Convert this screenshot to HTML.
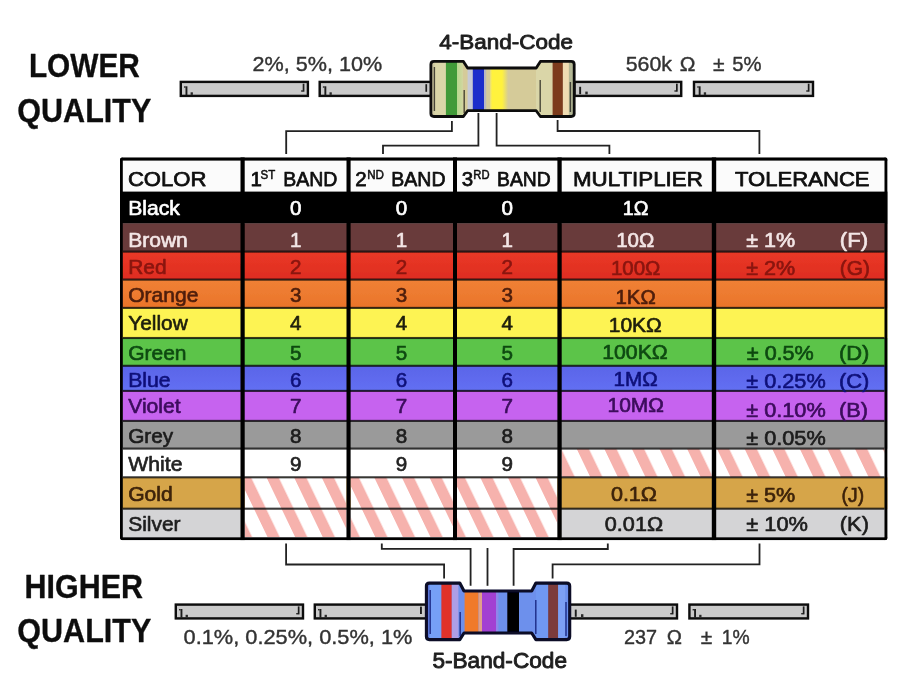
<!DOCTYPE html>
<html><head><meta charset="utf-8"><title>Resistor colour code</title>
<style>html,body{margin:0;padding:0;background:#fff;}body{width:917px;height:680px;overflow:hidden;}svg{display:block;font-family:"Liberation Sans",sans-serif;}</style></head><body>
<svg width="917" height="680" viewBox="0 0 917 680">
<defs>
<pattern id="h1" width="27.60" height="40" patternUnits="userSpaceOnUse" patternTransform="translate(9.73,0) skewX(25.641)"><rect x="0" y="0" width="12.20" height="40" fill="#f6b2ad"/></pattern>
<pattern id="h2" width="27.60" height="40" patternUnits="userSpaceOnUse" patternTransform="translate(7.07,0) skewX(25.641)"><rect x="0" y="0" width="12.20" height="40" fill="#f6b2ad"/></pattern>
<pattern id="h3" width="27.60" height="40" patternUnits="userSpaceOnUse" patternTransform="translate(2.67,0) skewX(25.641)"><rect x="0" y="0" width="12.20" height="40" fill="#f6b2ad"/></pattern>
<pattern id="h4" width="27.60" height="40" patternUnits="userSpaceOnUse" patternTransform="translate(2.46,0) skewX(25.641)"><rect x="0" y="0" width="12.20" height="40" fill="#f6b2ad"/></pattern>
<pattern id="h5" width="27.60" height="40" patternUnits="userSpaceOnUse" patternTransform="translate(4.76,0) skewX(25.641)"><rect x="0" y="0" width="12.20" height="40" fill="#f6b2ad"/></pattern>
<linearGradient id="gred" x1="0" y1="0" x2="0" y2="1"><stop offset="0" stop-color="#ea3927"/><stop offset="1" stop-color="#de2c20"/></linearGradient>
<linearGradient id="gor" x1="0" y1="0" x2="0" y2="1"><stop offset="0" stop-color="#f08135"/><stop offset="1" stop-color="#ea742a"/></linearGradient>
<linearGradient id="gbl" x1="0" y1="0" x2="0" y2="1"><stop offset="0" stop-color="#5a64e8"/><stop offset="1" stop-color="#6370f3"/></linearGradient>
<filter id="soft" x="-2%" y="-2%" width="104%" height="104%"><feGaussianBlur stdDeviation="0.55"/></filter>
</defs>
<rect width="917" height="680" fill="#ffffff"/>
<g filter="url(#soft)">
<clipPath id="tc"><rect x="120.0" y="157.3" width="767.6" height="383.0" rx="3.2" ry="3.2"/></clipPath>
<g id="table" clip-path="url(#tc)">
<rect x="120.0" y="157.3" width="767.6" height="383.0" fill="#fbfbfb"/>
<rect x="120.0" y="191.6" width="767.6" height="32.10" fill="#000000"/>
<rect x="120.0" y="223.4" width="767.6" height="28.50" fill="#693a3a"/>
<rect x="120.0" y="251.6" width="767.6" height="28.30" fill="url(#gred)"/>
<rect x="120.0" y="279.6" width="767.6" height="28.60" fill="url(#gor)"/>
<rect x="120.0" y="307.9" width="767.6" height="30.40" fill="#fdf352"/>
<rect x="120.0" y="338.0" width="767.6" height="28.10" fill="#5bc44a"/>
<rect x="120.0" y="365.8" width="767.6" height="25.40" fill="url(#gbl)"/>
<rect x="120.0" y="390.9" width="767.6" height="30.30" fill="#c663ef"/>
<rect x="120.0" y="420.9" width="767.6" height="28.00" fill="#9a9a9a"/>
<rect x="120.0" y="448.6" width="767.6" height="29.00" fill="#ffffff"/>
<rect x="120.0" y="477.3" width="767.6" height="31.70" fill="#d6a548"/>
<rect x="120.0" y="508.7" width="767.6" height="28.60" fill="#d4d4d6"/>
<rect x="244.7" y="477.3" width="101.8" height="59.7" fill="#fff"/>
<rect x="244.7" y="477.3" width="101.8" height="59.7" fill="url(#h1)"/>
<rect x="350.6" y="477.3" width="102.4" height="59.7" fill="#fff"/>
<rect x="350.6" y="477.3" width="102.4" height="59.7" fill="url(#h2)"/>
<rect x="457.0" y="477.3" width="100.4" height="59.7" fill="#fff"/>
<rect x="457.0" y="477.3" width="100.4" height="59.7" fill="url(#h3)"/>
<rect x="561.7" y="448.6" width="150.1" height="28.7" fill="#fff"/>
<rect x="561.7" y="448.6" width="150.1" height="28.7" fill="url(#h4)"/>
<rect x="716.2" y="448.6" width="168.3" height="28.7" fill="#fff"/>
<rect x="716.2" y="448.6" width="168.3" height="28.7" fill="url(#h5)"/>
<rect x="122.8" y="250.55" width="761.7" height="2.1" fill="#0a0a0a" fill-opacity="0.8"/>
<rect x="122.8" y="278.55" width="761.7" height="2.1" fill="#0a0a0a" fill-opacity="0.8"/>
<rect x="122.8" y="306.85" width="761.7" height="2.1" fill="#0a0a0a" fill-opacity="0.8"/>
<rect x="122.8" y="336.95" width="761.7" height="2.1" fill="#0a0a0a" fill-opacity="0.8"/>
<rect x="122.8" y="364.75" width="761.7" height="2.1" fill="#0a0a0a" fill-opacity="0.8"/>
<rect x="122.8" y="389.85" width="761.7" height="2.1" fill="#0a0a0a" fill-opacity="0.8"/>
<rect x="122.8" y="419.85" width="761.7" height="2.1" fill="#0a0a0a" fill-opacity="0.8"/>
<rect x="122.8" y="447.55" width="761.7" height="2.1" fill="#0a0a0a" fill-opacity="0.8"/>
<rect x="122.8" y="476.25" width="761.7" height="2.1" fill="#0a0a0a" fill-opacity="0.8"/>
<rect x="122.8" y="507.65" width="761.7" height="2.1" fill="#0a0a0a" fill-opacity="0.8"/>
<rect x="120.0" y="157.3" width="767.6" height="3.3" fill="#000"/>
<rect x="120.0" y="537.3" width="767.6" height="3.0" fill="#000"/>
<rect x="120.0" y="157.3" width="2.8" height="383.0" fill="#000"/>
<rect x="884.5" y="157.3" width="3.1" height="383.0" fill="#000"/>
<rect x="240.5" y="157.3" width="4.2" height="383.0" fill="#000"/>
<rect x="346.5" y="157.3" width="4.1" height="383.0" fill="#000"/>
<rect x="453.0" y="157.3" width="4.0" height="383.0" fill="#000"/>
<rect x="557.4" y="157.3" width="4.3" height="383.0" fill="#000"/>
<rect x="711.8" y="157.3" width="4.4" height="383.0" fill="#000"/>
<text x="127.9" y="186.0" font-size="20.50" fill="#111" stroke="#111" stroke-width="0.75" stroke-linejoin="round" textLength="78.6" lengthAdjust="spacingAndGlyphs" xml:space="preserve">COLOR</text>
<text x="250.6" y="186.0" font-size="20.50" fill="#111" stroke="#111" stroke-width="0.75" stroke-linejoin="round" xml:space="preserve">1</text>
<text x="260.6" y="178.6" font-size="12.80" fill="#111" stroke="#111" stroke-width="0.55" stroke-linejoin="round" textLength="14.7" lengthAdjust="spacingAndGlyphs" xml:space="preserve">ST</text>
<text x="283.2" y="186.0" font-size="20.50" fill="#111" stroke="#111" stroke-width="0.75" stroke-linejoin="round" textLength="54.2" lengthAdjust="spacingAndGlyphs" xml:space="preserve">BAND</text>
<text x="355.2" y="186.0" font-size="20.50" fill="#111" stroke="#111" stroke-width="0.75" stroke-linejoin="round" xml:space="preserve">2</text>
<text x="367.2" y="178.6" font-size="12.80" fill="#111" stroke="#111" stroke-width="0.55" stroke-linejoin="round" textLength="16.8" lengthAdjust="spacingAndGlyphs" xml:space="preserve">ND</text>
<text x="391.3" y="186.0" font-size="20.50" fill="#111" stroke="#111" stroke-width="0.75" stroke-linejoin="round" textLength="54.2" lengthAdjust="spacingAndGlyphs" xml:space="preserve">BAND</text>
<text x="461.8" y="186.0" font-size="20.50" fill="#111" stroke="#111" stroke-width="0.75" stroke-linejoin="round" xml:space="preserve">3</text>
<text x="473.3" y="178.6" font-size="12.80" fill="#111" stroke="#111" stroke-width="0.55" stroke-linejoin="round" textLength="16.2" lengthAdjust="spacingAndGlyphs" xml:space="preserve">RD</text>
<text x="497.1" y="186.0" font-size="20.50" fill="#111" stroke="#111" stroke-width="0.75" stroke-linejoin="round" textLength="53.7" lengthAdjust="spacingAndGlyphs" xml:space="preserve">BAND</text>
<text x="573.0" y="186.0" font-size="20.50" fill="#111" stroke="#111" stroke-width="0.75" stroke-linejoin="round" textLength="129.8" lengthAdjust="spacingAndGlyphs" xml:space="preserve">MULTIPLIER</text>
<text x="735.0" y="186.0" font-size="20.50" fill="#111" stroke="#111" stroke-width="0.75" stroke-linejoin="round" textLength="134.6" lengthAdjust="spacingAndGlyphs" xml:space="preserve">TOLERANCE</text>
<text x="128.2" y="215.2" font-size="20.60" fill="#ffffff" stroke="#ffffff" stroke-width="0.65" stroke-linejoin="round" textLength="51.7" lengthAdjust="spacingAndGlyphs" xml:space="preserve">Black</text>
<text x="295.7" y="215.2" font-size="20.60" fill="#ffffff" stroke="#ffffff" stroke-width="0.65" stroke-linejoin="round" text-anchor="middle" xml:space="preserve">0</text>
<text x="401.5" y="215.2" font-size="20.60" fill="#ffffff" stroke="#ffffff" stroke-width="0.65" stroke-linejoin="round" text-anchor="middle" xml:space="preserve">0</text>
<text x="507.3" y="215.2" font-size="20.60" fill="#ffffff" stroke="#ffffff" stroke-width="0.65" stroke-linejoin="round" text-anchor="middle" xml:space="preserve">0</text>
<text x="622.8" y="215.3" font-size="20.60" fill="#ffffff" stroke="#ffffff" stroke-width="0.65" stroke-linejoin="round" textLength="25.7" lengthAdjust="spacingAndGlyphs" xml:space="preserve">1Ω</text>
<text x="128.2" y="246.5" font-size="20.60" fill="#f3e6e6" stroke="#f3e6e6" stroke-width="0.65" stroke-linejoin="round" textLength="59.6" lengthAdjust="spacingAndGlyphs" xml:space="preserve">Brown</text>
<text x="295.7" y="246.5" font-size="20.60" fill="#f3e6e6" stroke="#f3e6e6" stroke-width="0.65" stroke-linejoin="round" text-anchor="middle" xml:space="preserve">1</text>
<text x="401.5" y="246.5" font-size="20.60" fill="#f3e6e6" stroke="#f3e6e6" stroke-width="0.65" stroke-linejoin="round" text-anchor="middle" xml:space="preserve">1</text>
<text x="507.3" y="246.5" font-size="20.60" fill="#f3e6e6" stroke="#f3e6e6" stroke-width="0.65" stroke-linejoin="round" text-anchor="middle" xml:space="preserve">1</text>
<text x="616.2" y="246.5" font-size="20.60" fill="#f3e6e6" stroke="#f3e6e6" stroke-width="0.65" stroke-linejoin="round" textLength="38.1" lengthAdjust="spacingAndGlyphs" xml:space="preserve">10Ω</text>
<text x="746.3" y="247.2" font-size="20.60" fill="#f3e6e6" stroke="#f3e6e6" stroke-width="0.65" stroke-linejoin="round" textLength="49.0" lengthAdjust="spacingAndGlyphs" xml:space="preserve">± 1%</text>
<text x="839.8" y="247.2" font-size="20.60" fill="#f3e6e6" stroke="#f3e6e6" stroke-width="0.65" stroke-linejoin="round" textLength="28.3" lengthAdjust="spacingAndGlyphs" xml:space="preserve">(F)</text>
<text x="128.2" y="273.8" font-size="20.60" fill="#8a1510" stroke="#8a1510" stroke-width="0.65" stroke-linejoin="round" textLength="38.4" lengthAdjust="spacingAndGlyphs" xml:space="preserve">Red</text>
<text x="295.7" y="273.8" font-size="20.60" fill="#8a1510" stroke="#8a1510" stroke-width="0.65" stroke-linejoin="round" text-anchor="middle" xml:space="preserve">2</text>
<text x="401.5" y="273.8" font-size="20.60" fill="#8a1510" stroke="#8a1510" stroke-width="0.65" stroke-linejoin="round" text-anchor="middle" xml:space="preserve">2</text>
<text x="507.3" y="273.8" font-size="20.60" fill="#8a1510" stroke="#8a1510" stroke-width="0.65" stroke-linejoin="round" text-anchor="middle" xml:space="preserve">2</text>
<text x="610.9" y="274.5" font-size="20.60" fill="#8a1510" stroke="#8a1510" stroke-width="0.65" stroke-linejoin="round" textLength="49.5" lengthAdjust="spacingAndGlyphs" xml:space="preserve">100Ω</text>
<text x="746.3" y="274.6" font-size="20.60" fill="#8a1510" stroke="#8a1510" stroke-width="0.65" stroke-linejoin="round" textLength="49.0" lengthAdjust="spacingAndGlyphs" xml:space="preserve">± 2%</text>
<text x="839.8" y="274.6" font-size="20.60" fill="#8a1510" stroke="#8a1510" stroke-width="0.65" stroke-linejoin="round" textLength="30.2" lengthAdjust="spacingAndGlyphs" xml:space="preserve">(G)</text>
<text x="128.2" y="302.1" font-size="20.60" fill="#4f1f0a" stroke="#4f1f0a" stroke-width="0.65" stroke-linejoin="round" textLength="70.2" lengthAdjust="spacingAndGlyphs" xml:space="preserve">Orange</text>
<text x="295.7" y="302.1" font-size="20.60" fill="#4f1f0a" stroke="#4f1f0a" stroke-width="0.65" stroke-linejoin="round" text-anchor="middle" xml:space="preserve">3</text>
<text x="401.5" y="302.1" font-size="20.60" fill="#4f1f0a" stroke="#4f1f0a" stroke-width="0.65" stroke-linejoin="round" text-anchor="middle" xml:space="preserve">3</text>
<text x="507.3" y="302.1" font-size="20.60" fill="#4f1f0a" stroke="#4f1f0a" stroke-width="0.65" stroke-linejoin="round" text-anchor="middle" xml:space="preserve">3</text>
<text x="615.4" y="303.8" font-size="20.60" fill="#4f1f0a" stroke="#4f1f0a" stroke-width="0.65" stroke-linejoin="round" textLength="40.3" lengthAdjust="spacingAndGlyphs" xml:space="preserve">1KΩ</text>
<text x="128.2" y="329.9" font-size="20.60" fill="#1f1f0c" stroke="#1f1f0c" stroke-width="0.65" stroke-linejoin="round" textLength="59.6" lengthAdjust="spacingAndGlyphs" xml:space="preserve">Yellow</text>
<text x="295.7" y="329.9" font-size="20.60" fill="#1f1f0c" stroke="#1f1f0c" stroke-width="0.65" stroke-linejoin="round" text-anchor="middle" xml:space="preserve">4</text>
<text x="401.5" y="329.9" font-size="20.60" fill="#1f1f0c" stroke="#1f1f0c" stroke-width="0.65" stroke-linejoin="round" text-anchor="middle" xml:space="preserve">4</text>
<text x="507.3" y="329.9" font-size="20.60" fill="#1f1f0c" stroke="#1f1f0c" stroke-width="0.65" stroke-linejoin="round" text-anchor="middle" xml:space="preserve">4</text>
<text x="608.8" y="332.0" font-size="20.60" fill="#1f1f0c" stroke="#1f1f0c" stroke-width="0.65" stroke-linejoin="round" textLength="53.0" lengthAdjust="spacingAndGlyphs" xml:space="preserve">10KΩ</text>
<text x="128.2" y="359.8" font-size="20.60" fill="#0f4a12" stroke="#0f4a12" stroke-width="0.65" stroke-linejoin="round" textLength="58.3" lengthAdjust="spacingAndGlyphs" xml:space="preserve">Green</text>
<text x="295.7" y="359.8" font-size="20.60" fill="#0f4a12" stroke="#0f4a12" stroke-width="0.65" stroke-linejoin="round" text-anchor="middle" xml:space="preserve">5</text>
<text x="401.5" y="359.8" font-size="20.60" fill="#0f4a12" stroke="#0f4a12" stroke-width="0.65" stroke-linejoin="round" text-anchor="middle" xml:space="preserve">5</text>
<text x="507.3" y="359.8" font-size="20.60" fill="#0f4a12" stroke="#0f4a12" stroke-width="0.65" stroke-linejoin="round" text-anchor="middle" xml:space="preserve">5</text>
<text x="602.2" y="359.3" font-size="20.60" fill="#0f4a12" stroke="#0f4a12" stroke-width="0.65" stroke-linejoin="round" textLength="65.6" lengthAdjust="spacingAndGlyphs" xml:space="preserve">100KΩ</text>
<text x="746.8" y="360.4" font-size="20.60" fill="#0f4a12" stroke="#0f4a12" stroke-width="0.65" stroke-linejoin="round" textLength="67.0" lengthAdjust="spacingAndGlyphs" xml:space="preserve">± 0.5%</text>
<text x="839.0" y="360.4" font-size="20.60" fill="#0f4a12" stroke="#0f4a12" stroke-width="0.65" stroke-linejoin="round" textLength="30.4" lengthAdjust="spacingAndGlyphs" xml:space="preserve">(D)</text>
<text x="128.2" y="386.9" font-size="20.60" fill="#10127a" stroke="#10127a" stroke-width="0.65" stroke-linejoin="round" textLength="42.4" lengthAdjust="spacingAndGlyphs" xml:space="preserve">Blue</text>
<text x="295.7" y="386.9" font-size="20.60" fill="#10127a" stroke="#10127a" stroke-width="0.65" stroke-linejoin="round" text-anchor="middle" xml:space="preserve">6</text>
<text x="401.5" y="386.9" font-size="20.60" fill="#10127a" stroke="#10127a" stroke-width="0.65" stroke-linejoin="round" text-anchor="middle" xml:space="preserve">6</text>
<text x="507.3" y="386.9" font-size="20.60" fill="#10127a" stroke="#10127a" stroke-width="0.65" stroke-linejoin="round" text-anchor="middle" xml:space="preserve">6</text>
<text x="613.6" y="386.0" font-size="20.60" fill="#10127a" stroke="#10127a" stroke-width="0.65" stroke-linejoin="round" textLength="44.2" lengthAdjust="spacingAndGlyphs" xml:space="preserve">1MΩ</text>
<text x="746.3" y="388.4" font-size="20.60" fill="#10127a" stroke="#10127a" stroke-width="0.65" stroke-linejoin="round" textLength="79.4" lengthAdjust="spacingAndGlyphs" xml:space="preserve">± 0.25%</text>
<text x="839.0" y="388.4" font-size="20.60" fill="#10127a" stroke="#10127a" stroke-width="0.65" stroke-linejoin="round" textLength="30.4" lengthAdjust="spacingAndGlyphs" xml:space="preserve">(C)</text>
<text x="128.2" y="413.4" font-size="20.60" fill="#3c0c5c" stroke="#3c0c5c" stroke-width="0.65" stroke-linejoin="round" textLength="52.4" lengthAdjust="spacingAndGlyphs" xml:space="preserve">Violet</text>
<text x="295.7" y="413.4" font-size="20.60" fill="#3c0c5c" stroke="#3c0c5c" stroke-width="0.65" stroke-linejoin="round" text-anchor="middle" xml:space="preserve">7</text>
<text x="401.5" y="413.4" font-size="20.60" fill="#3c0c5c" stroke="#3c0c5c" stroke-width="0.65" stroke-linejoin="round" text-anchor="middle" xml:space="preserve">7</text>
<text x="507.3" y="413.4" font-size="20.60" fill="#3c0c5c" stroke="#3c0c5c" stroke-width="0.65" stroke-linejoin="round" text-anchor="middle" xml:space="preserve">7</text>
<text x="607.5" y="412.2" font-size="20.60" fill="#3c0c5c" stroke="#3c0c5c" stroke-width="0.65" stroke-linejoin="round" textLength="56.4" lengthAdjust="spacingAndGlyphs" xml:space="preserve">10MΩ</text>
<text x="746.3" y="416.5" font-size="20.60" fill="#3c0c5c" stroke="#3c0c5c" stroke-width="0.65" stroke-linejoin="round" textLength="79.4" lengthAdjust="spacingAndGlyphs" xml:space="preserve">± 0.10%</text>
<text x="839.0" y="416.5" font-size="20.60" fill="#3c0c5c" stroke="#3c0c5c" stroke-width="0.65" stroke-linejoin="round" textLength="29.0" lengthAdjust="spacingAndGlyphs" xml:space="preserve">(B)</text>
<text x="128.2" y="442.5" font-size="20.60" fill="#1c1c1c" stroke="#1c1c1c" stroke-width="0.65" stroke-linejoin="round" textLength="45.0" lengthAdjust="spacingAndGlyphs" xml:space="preserve">Grey</text>
<text x="295.7" y="442.5" font-size="20.60" fill="#1c1c1c" stroke="#1c1c1c" stroke-width="0.65" stroke-linejoin="round" text-anchor="middle" xml:space="preserve">8</text>
<text x="401.5" y="442.5" font-size="20.60" fill="#1c1c1c" stroke="#1c1c1c" stroke-width="0.65" stroke-linejoin="round" text-anchor="middle" xml:space="preserve">8</text>
<text x="507.3" y="442.5" font-size="20.60" fill="#1c1c1c" stroke="#1c1c1c" stroke-width="0.65" stroke-linejoin="round" text-anchor="middle" xml:space="preserve">8</text>
<text x="746.3" y="444.9" font-size="20.60" fill="#1c1c1c" stroke="#1c1c1c" stroke-width="0.65" stroke-linejoin="round" textLength="79.4" lengthAdjust="spacingAndGlyphs" xml:space="preserve">± 0.05%</text>
<text x="128.2" y="470.7" font-size="20.60" fill="#222222" stroke="#222222" stroke-width="0.65" stroke-linejoin="round" textLength="54.3" lengthAdjust="spacingAndGlyphs" xml:space="preserve">White</text>
<text x="295.7" y="470.7" font-size="20.60" fill="#222222" stroke="#222222" stroke-width="0.65" stroke-linejoin="round" text-anchor="middle" xml:space="preserve">9</text>
<text x="401.5" y="470.7" font-size="20.60" fill="#222222" stroke="#222222" stroke-width="0.65" stroke-linejoin="round" text-anchor="middle" xml:space="preserve">9</text>
<text x="507.3" y="470.7" font-size="20.60" fill="#222222" stroke="#222222" stroke-width="0.65" stroke-linejoin="round" text-anchor="middle" xml:space="preserve">9</text>
<text x="128.2" y="501.0" font-size="20.60" fill="#3c2208" stroke="#3c2208" stroke-width="0.65" stroke-linejoin="round" textLength="44.5" lengthAdjust="spacingAndGlyphs" xml:space="preserve">Gold</text>
<text x="610.9" y="501.4" font-size="20.60" fill="#3c2208" stroke="#3c2208" stroke-width="0.65" stroke-linejoin="round" textLength="46.1" lengthAdjust="spacingAndGlyphs" xml:space="preserve">0.1Ω</text>
<text x="746.3" y="501.8" font-size="20.60" fill="#3c2208" stroke="#3c2208" stroke-width="0.65" stroke-linejoin="round" textLength="49.0" lengthAdjust="spacingAndGlyphs" xml:space="preserve">± 5%</text>
<text x="841.6" y="501.8" font-size="20.60" fill="#3c2208" stroke="#3c2208" stroke-width="0.65" stroke-linejoin="round" textLength="22.5" lengthAdjust="spacingAndGlyphs" xml:space="preserve">(J)</text>
<text x="128.2" y="530.6" font-size="20.60" fill="#1e1e1e" stroke="#1e1e1e" stroke-width="0.65" stroke-linejoin="round" textLength="52.4" lengthAdjust="spacingAndGlyphs" xml:space="preserve">Silver</text>
<text x="604.8" y="530.7" font-size="20.60" fill="#1e1e1e" stroke="#1e1e1e" stroke-width="0.65" stroke-linejoin="round" textLength="58.3" lengthAdjust="spacingAndGlyphs" xml:space="preserve">0.01Ω</text>
<text x="746.3" y="530.8" font-size="20.60" fill="#1e1e1e" stroke="#1e1e1e" stroke-width="0.65" stroke-linejoin="round" textLength="61.7" lengthAdjust="spacingAndGlyphs" xml:space="preserve">± 10%</text>
<text x="839.8" y="530.8" font-size="20.60" fill="#1e1e1e" stroke="#1e1e1e" stroke-width="0.65" stroke-linejoin="round" textLength="29.1" lengthAdjust="spacingAndGlyphs" xml:space="preserve">(K)</text>
</g>
<polyline points="451.9,121.0 451.9,131.1 286.2,131.1 286.2,154.0" fill="none" stroke="#202020" stroke-width="1.8"/>
<polyline points="478.4,113.0 478.4,145.7 383.0,145.7 383.0,154.0" fill="none" stroke="#202020" stroke-width="1.8"/>
<polyline points="496.6,113.0 496.6,145.6 609.4,145.6 609.4,154.0" fill="none" stroke="#202020" stroke-width="1.8"/>
<polyline points="557.6,120.0 557.6,131.0 759.4,131.0 759.4,154.0" fill="none" stroke="#202020" stroke-width="1.8"/>
<polyline points="286.1,543.5 286.1,564.5 444.1,564.5 444.1,578.5" fill="none" stroke="#202020" stroke-width="1.8"/>
<polyline points="381.8,543.5 381.8,548.9 470.6,548.9 470.6,585.8" fill="none" stroke="#202020" stroke-width="1.8"/>
<polyline points="487.5,548.0 487.5,585.8" fill="none" stroke="#202020" stroke-width="1.8"/>
<polyline points="513.6,585.8 513.6,549.0 607.8,549.0 607.8,543.5" fill="none" stroke="#202020" stroke-width="1.8"/>
<polyline points="552.6,578.5 552.6,564.4 759.5,564.4 759.5,543.5" fill="none" stroke="#202020" stroke-width="1.8"/>
<rect x="180.8" y="81.9" width="127.1" height="14.0" fill="#cacaca" stroke="#0a0a0a" stroke-width="2.4"/>
<rect x="185.5" y="86.3" width="1.9" height="8.8" fill="#1c1c1c"/>
<rect x="190.6" y="92.3" width="2.3" height="2.6" fill="#2a2a2a"/>
<rect x="184.0" y="86.3" width="1.6" height="1.4" fill="#2a2a2a"/>
<rect x="302.7" y="83.7" width="1.7" height="8.0" fill="#1c1c1c"/>
<rect x="301.1" y="90.3" width="2.0" height="1.4" fill="#2a2a2a"/>
<rect x="319.7" y="81.9" width="112.1" height="14.0" fill="#cacaca" stroke="#0a0a0a" stroke-width="2.4"/>
<rect x="324.4" y="86.3" width="1.9" height="8.8" fill="#1c1c1c"/>
<rect x="329.5" y="92.3" width="2.3" height="2.6" fill="#2a2a2a"/>
<rect x="322.9" y="86.3" width="1.6" height="1.4" fill="#2a2a2a"/>
<rect x="425.4" y="84.2" width="1.7" height="7.6" fill="#1c1c1c"/>
<rect x="574.4" y="81.9" width="106.8" height="14.0" fill="#cacaca" stroke="#0a0a0a" stroke-width="2.4"/>
<rect x="676.0" y="83.7" width="1.7" height="8.0" fill="#1c1c1c"/>
<rect x="674.4" y="90.3" width="2.0" height="1.4" fill="#2a2a2a"/>
<rect x="579.2" y="86.8" width="1.9" height="7.4" fill="#1c1c1c"/><rect x="585.3" y="91.6" width="2.4" height="2.8" fill="#2a2a2a"/>
<rect x="694.0" y="81.9" width="119.0" height="14.0" fill="#cacaca" stroke="#0a0a0a" stroke-width="2.4"/>
<rect x="698.7" y="86.3" width="1.9" height="8.8" fill="#1c1c1c"/>
<rect x="703.8" y="92.3" width="2.3" height="2.6" fill="#2a2a2a"/>
<rect x="697.2" y="86.3" width="1.6" height="1.4" fill="#2a2a2a"/>
<rect x="807.8" y="83.7" width="1.7" height="8.0" fill="#1c1c1c"/>
<rect x="806.2" y="90.3" width="2.0" height="1.4" fill="#2a2a2a"/>
<rect x="175.8" y="604.6" width="127.2" height="13.8" fill="#cacaca" stroke="#0a0a0a" stroke-width="2.4"/>
<rect x="180.5" y="609.0" width="1.9" height="8.6" fill="#1c1c1c"/>
<rect x="185.6" y="614.8" width="2.3" height="2.6" fill="#2a2a2a"/>
<rect x="179.0" y="609.0" width="1.6" height="1.4" fill="#2a2a2a"/>
<rect x="297.8" y="606.4" width="1.7" height="8.0" fill="#1c1c1c"/>
<rect x="296.2" y="613.0" width="2.0" height="1.4" fill="#2a2a2a"/>
<rect x="314.8" y="604.6" width="111.5" height="13.8" fill="#cacaca" stroke="#0a0a0a" stroke-width="2.4"/>
<rect x="319.5" y="609.0" width="1.9" height="8.6" fill="#1c1c1c"/>
<rect x="324.6" y="614.8" width="2.3" height="2.6" fill="#2a2a2a"/>
<rect x="318.0" y="609.0" width="1.6" height="1.4" fill="#2a2a2a"/>
<rect x="420.0" y="606.6" width="1.9" height="7.4" fill="#1c1c1c"/>
<rect x="569.8" y="604.6" width="107.2" height="13.8" fill="#cacaca" stroke="#0a0a0a" stroke-width="2.4"/>
<rect x="671.8" y="606.4" width="1.7" height="8.0" fill="#1c1c1c"/>
<rect x="670.2" y="613.0" width="2.0" height="1.4" fill="#2a2a2a"/>
<rect x="574.8" y="609.6" width="1.9" height="7.2" fill="#1c1c1c"/><rect x="581.0" y="614.2" width="2.4" height="2.8" fill="#2a2a2a"/>
<rect x="689.4" y="604.6" width="118.6" height="13.8" fill="#cacaca" stroke="#0a0a0a" stroke-width="2.4"/>
<rect x="694.1" y="609.0" width="1.9" height="8.6" fill="#1c1c1c"/>
<rect x="699.2" y="614.8" width="2.3" height="2.6" fill="#2a2a2a"/>
<rect x="692.6" y="609.0" width="1.6" height="1.4" fill="#2a2a2a"/>
<rect x="802.8" y="606.4" width="1.7" height="8.0" fill="#1c1c1c"/>
<rect x="801.2" y="613.0" width="2.0" height="1.4" fill="#2a2a2a"/>
<clipPath id="c4"><path d="M433.9 61.4 L463.4 61.4 L467.6 68.0 L536.2 68.0 L540.4 61.4 L571.2 61.4 Q574.2 61.4 574.2 64.4 L574.2 113.5 Q574.2 116.5 571.2 116.5 L540.4 116.5 L536.2 110.7 L467.6 110.7 L463.4 116.5 L433.9 116.5 Q430.9 116.5 430.9 113.5 L430.9 64.4 Q430.9 61.4 433.9 61.4 Z"/></clipPath>
<path d="M433.9 61.4 L463.4 61.4 L467.6 68.0 L536.2 68.0 L540.4 61.4 L571.2 61.4 Q574.2 61.4 574.2 64.4 L574.2 113.5 Q574.2 116.5 571.2 116.5 L540.4 116.5 L536.2 110.7 L467.6 110.7 L463.4 116.5 L433.9 116.5 Q430.9 116.5 430.9 113.5 L430.9 64.4 Q430.9 61.4 433.9 61.4 Z" fill="#d5cb99"/>
<g clip-path="url(#c4)">
<rect x="429" y="58" width="17" height="62" fill="#dad6a8"/>
<rect x="429" y="58" width="5.6" height="62" fill="#cfc9a2"/>
<rect x="445.9" y="58" width="11.1" height="62" fill="#3f9a39"/>
<linearGradient id="glg" x1="0" y1="0" x2="1" y2="0"><stop offset="0" stop-color="#b6d88e"/><stop offset="1" stop-color="#d3d6a0"/></linearGradient>
<rect x="457.0" y="58" width="6.0" height="62" fill="url(#glg)"/>
<rect x="467.6" y="66" width="5.2" height="46" fill="#c6cad6"/>
<rect x="472.8" y="66" width="11.2" height="46" fill="#1d2dcb"/>
<rect x="484.0" y="66" width="2.2" height="46" fill="#b9b9c0"/>
<linearGradient id="gy" x1="0" y1="0" x2="1" y2="0"><stop offset="0" stop-color="#efe374"/><stop offset="0.12" stop-color="#fff23e"/><stop offset="0.66" stop-color="#fff23e"/><stop offset="1" stop-color="#d5cb99"/></linearGradient>
<rect x="490.2" y="66" width="18" height="46" fill="url(#gy)"/>
<rect x="536" y="58" width="17" height="62" fill="#dad6a8"/>
<rect x="552.6" y="58" width="10.3" height="62" fill="#7b3a1f"/>
<rect x="562.9" y="58" width="6.0" height="62" fill="#efdcb2"/>
<rect x="568.9" y="58" width="6.0" height="62" fill="#b4b896"/>
</g>
<path d="M433.9 61.4 L463.4 61.4 L467.6 68.0 L536.2 68.0 L540.4 61.4 L571.2 61.4 Q574.2 61.4 574.2 64.4 L574.2 113.5 Q574.2 116.5 571.2 116.5 L540.4 116.5 L536.2 110.7 L467.6 110.7 L463.4 116.5 L433.9 116.5 Q430.9 116.5 430.9 113.5 L430.9 64.4 Q430.9 61.4 433.9 61.4 Z" fill="none" stroke="#0c0c0c" stroke-width="2.8" stroke-linejoin="round"/>
<path d="M434.4 67 V111 M464.2 90 V113 M540.2 80 V112 M570.4 82 V112" stroke="#23231c" stroke-width="1.4" fill="none" opacity="0.8"/>
<clipPath id="c5"><path d="M429.4 583.1 L459.8 583.1 L464.0 591.0 L531.7 591.0 L535.9 583.1 L566.7 583.1 Q569.7 583.1 569.7 586.1 L569.7 636.6 Q569.7 639.6 566.7 639.6 L535.9 639.6 L531.7 633.0 L464.0 633.0 L459.8 639.6 L429.4 639.6 Q426.4 639.6 426.4 636.6 L426.4 586.1 Q426.4 583.1 429.4 583.1 Z"/></clipPath>
<path d="M429.4 583.1 L459.8 583.1 L464.0 591.0 L531.7 591.0 L535.9 583.1 L566.7 583.1 Q569.7 583.1 569.7 586.1 L569.7 636.6 Q569.7 639.6 566.7 639.6 L535.9 639.6 L531.7 633.0 L464.0 633.0 L459.8 639.6 L429.4 639.6 Q426.4 639.6 426.4 636.6 L426.4 586.1 Q426.4 583.1 429.4 583.1 Z" fill="#6d90ec"/>
<g clip-path="url(#c5)">
<rect x="424" y="580" width="5.6" height="64" fill="#5a74d6"/>
<rect x="429.6" y="580" width="11.8" height="64" fill="#76a0f6"/>
<rect x="441.4" y="580" width="10.4" height="64" fill="#e1302a"/>
<rect x="451.8" y="580" width="6.6" height="64" fill="#ad9fe6"/>
<rect x="464.6" y="588" width="14.0" height="48" fill="#f07a2b"/>
<rect x="478.6" y="588" width="3.4" height="48" fill="#e0a08a"/>
<rect x="482.0" y="588" width="14.0" height="48" fill="#a241d2"/>
<rect x="496.0" y="588" width="2.4" height="48" fill="#8f86ea"/>
<rect x="507.3" y="588" width="11.7" height="48" fill="#000000"/>
<rect x="536.0" y="580" width="12.2" height="64" fill="#7098f2"/>
<rect x="548.2" y="580" width="10.0" height="64" fill="#7b3a3a"/>
<rect x="558.2" y="580" width="7.0" height="64" fill="#7da0f4"/>
</g>
<path d="M429.4 583.1 L459.8 583.1 L464.0 591.0 L531.7 591.0 L535.9 583.1 L566.7 583.1 Q569.7 583.1 569.7 586.1 L569.7 636.6 Q569.7 639.6 566.7 639.6 L535.9 639.6 L531.7 633.0 L464.0 633.0 L459.8 639.6 L429.4 639.6 Q426.4 639.6 426.4 636.6 L426.4 586.1 Q426.4 583.1 429.4 583.1 Z" fill="none" stroke="#070b28" stroke-width="3.1" stroke-linejoin="round"/>
<path d="M430.2 590 V634 M460.2 612 V636 M535.8 600 V634 M566.0 602 V636" stroke="#14207a" stroke-width="1.5" fill="none" opacity="0.85"/>
<text x="439.2" y="48.7" font-size="20.80" fill="#202020" stroke="#202020" stroke-width="0.85" stroke-linejoin="round" textLength="133.8" lengthAdjust="spacingAndGlyphs" xml:space="preserve">4-Band-Code</text>
<text x="432.4" y="668.3" font-size="21.20" fill="#202020" stroke="#202020" stroke-width="0.85" stroke-linejoin="round" textLength="134.6" lengthAdjust="spacingAndGlyphs" xml:space="preserve">5-Band-Code</text>
<text x="252.6" y="70.9" font-size="21.00" fill="#333333" stroke="#333333" stroke-width="0.40" stroke-linejoin="round" textLength="129.6" lengthAdjust="spacingAndGlyphs" xml:space="preserve">2%, 5%, 10%</text>
<text x="625.7" y="70.9" font-size="21.00" fill="#333333" stroke="#333333" stroke-width="0.40" stroke-linejoin="round" textLength="46.3" lengthAdjust="spacingAndGlyphs" xml:space="preserve">560k</text>
<text x="679.8" y="70.9" font-size="21.00" fill="#333333" stroke="#333333" stroke-width="0.40" stroke-linejoin="round" textLength="15.7" lengthAdjust="spacingAndGlyphs" xml:space="preserve">Ω</text>
<text x="713.0" y="70.9" font-size="21.00" fill="#333333" stroke="#333333" stroke-width="0.40" stroke-linejoin="round" xml:space="preserve">±</text>
<text x="732.2" y="70.9" font-size="21.00" fill="#333333" stroke="#333333" stroke-width="0.40" stroke-linejoin="round" textLength="29.3" lengthAdjust="spacingAndGlyphs" xml:space="preserve">5%</text>
<text x="183.6" y="643.9" font-size="21.00" fill="#333333" stroke="#333333" stroke-width="0.40" stroke-linejoin="round" textLength="228.8" lengthAdjust="spacingAndGlyphs" xml:space="preserve">0.1%, 0.25%, 0.5%, 1%</text>
<text x="624.0" y="643.5" font-size="21.00" fill="#333333" stroke="#333333" stroke-width="0.40" stroke-linejoin="round" textLength="33.1" lengthAdjust="spacingAndGlyphs" xml:space="preserve">237</text>
<text x="666.7" y="643.5" font-size="21.00" fill="#333333" stroke="#333333" stroke-width="0.40" stroke-linejoin="round" textLength="15.2" lengthAdjust="spacingAndGlyphs" xml:space="preserve">Ω</text>
<text x="700.8" y="643.5" font-size="21.00" fill="#333333" stroke="#333333" stroke-width="0.40" stroke-linejoin="round" xml:space="preserve">±</text>
<text x="721.7" y="643.5" font-size="21.00" fill="#333333" stroke="#333333" stroke-width="0.40" stroke-linejoin="round" textLength="27.9" lengthAdjust="spacingAndGlyphs" xml:space="preserve">1%</text>
<text x="28.9" y="77.1" font-size="32.60" fill="#0b0b0b" stroke="#0b0b0b" stroke-width="0.30" stroke-linejoin="round" font-weight="bold" textLength="111.0" lengthAdjust="spacingAndGlyphs" xml:space="preserve">LOWER</text>
<text x="17.3" y="121.9" font-size="32.60" fill="#0b0b0b" stroke="#0b0b0b" stroke-width="0.30" stroke-linejoin="round" font-weight="bold" textLength="134.0" lengthAdjust="spacingAndGlyphs" xml:space="preserve">QUALITY</text>
<text x="24.6" y="597.7" font-size="32.60" fill="#0b0b0b" stroke="#0b0b0b" stroke-width="0.30" stroke-linejoin="round" font-weight="bold" textLength="118.4" lengthAdjust="spacingAndGlyphs" xml:space="preserve">HIGHER</text>
<text x="17.3" y="642.3" font-size="32.60" fill="#0b0b0b" stroke="#0b0b0b" stroke-width="0.30" stroke-linejoin="round" font-weight="bold" textLength="134.0" lengthAdjust="spacingAndGlyphs" xml:space="preserve">QUALITY</text>
</g>
</svg></body></html>
